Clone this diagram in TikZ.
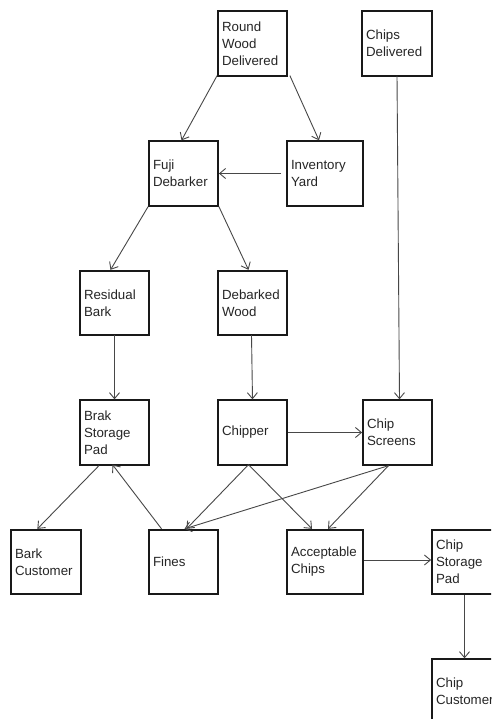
\documentclass[tikz,border=0pt]{standalone}
\usepackage{fontspec}
\setmainfont{Liberation Sans}
\usetikzlibrary{arrows.meta,calc}
\begin{document}
\begin{tikzpicture}[x=1pt,y=-1pt,
  box/.style={draw=black!90,line width=1.8pt,rectangle,minimum height=64.5pt,
    inner xsep=4pt,inner ysep=0pt,text width=#1-8pt,align=left,
    font=\fontsize{13.3}{17}\selectfont,text=black!85},
  box/.default=69pt,
  flow/.style={draw=black!72,line width=0.9pt,-{Straight Barb[length=6pt,width=10pt,line width=0.9pt]}}]
\useasboundingbox (0,0) rectangle (491,719);
\clip (0,0) rectangle (491,719);
\fill[white] (0,0) rectangle (491,719);
\node[box] (rw) at (252.5,43.5) {Round\\Wood\\Delivered};
\node[box=70pt] (cd) at (397,43.5) {Chips\\Delivered};
\node[box] (fuji) at (183.5,173.5) {Fuji\\Debarker};
\node[box=76pt] (inv) at (325,173.5) {Inventory\\Yard};
\node[box] (rb) at (114.5,303) {Residual\\Bark};
\node[box] (dw) at (252.5,303) {Debarked\\Wood};
\node[box] (brak) at (114.5,432.5) {Brak\\Storage\\Pad};
\node[box] (chipper) at (252.5,432.5) {Chipper};
\node[box] (cs) at (397.5,432.5) {Chip\\Screens};
\node[box=70pt] (bc) at (46,562) {Bark\\Customer};
\node[box] (fines) at (183.5,562) {Fines};
\node[box=76pt] (acc) at (325,562) {Acceptable\\Chips};
\node[box] (csp) at (466.5,562) {Chip\\Storage\\Pad};
\node[box] (ccust) at (466.5,691.5) {Chip\\Customer};
% connectors
\draw[flow] ([yshift=1pt]rw.south west) -- ([xshift=-2pt]fuji.north);
\draw[flow] ([xshift=2pt,yshift=1pt]rw.south east) -- ([xshift=-6pt]inv.north);
\draw[flow] ([xshift=-5pt]inv.west) -- (fuji.east);
\draw[flow] (fuji.south west) -- ([xshift=-4pt]rb.north);
\draw[flow] (fuji.south east) -- ([xshift=-4pt]dw.north);
\draw[flow] ([yshift=1pt]rb.south) -- (brak.north);
\draw[flow] ([xshift=-1pt,yshift=1pt]dw.south) -- (chipper.north);
\draw[flow] ([yshift=1pt]cd.south) -- ([xshift=2pt]cs.north);
\draw[flow] (chipper.east) -- (cs.west);
\draw[flow] ($(brak.south west)!0.28!(brak.south east)$) -- ($(bc.north west)!0.38!(bc.north east)$);
\draw[flow] ($(fines.north west)!0.19!(fines.north east)$) -- ([xshift=-2pt,yshift=1pt]brak.south);
\draw[flow] ([xshift=-4pt,yshift=1pt]chipper.south) -- ([xshift=3pt]fines.north);
\draw[flow] ([xshift=-4pt,yshift=1pt]chipper.south) -- ([xshift=-13pt]acc.north);
\draw[flow] ([xshift=-9pt]cs.south) -- ([xshift=1pt]fines.north);
\draw[flow] ([xshift=-9pt]cs.south) -- ([xshift=3pt]acc.north);
\draw[flow] ([yshift=2pt]acc.east) -- ([yshift=2pt]csp.west);
\draw[flow] ([xshift=-2pt]csp.south) -- ([xshift=-2pt]ccust.north);
\end{tikzpicture}
\end{document}
